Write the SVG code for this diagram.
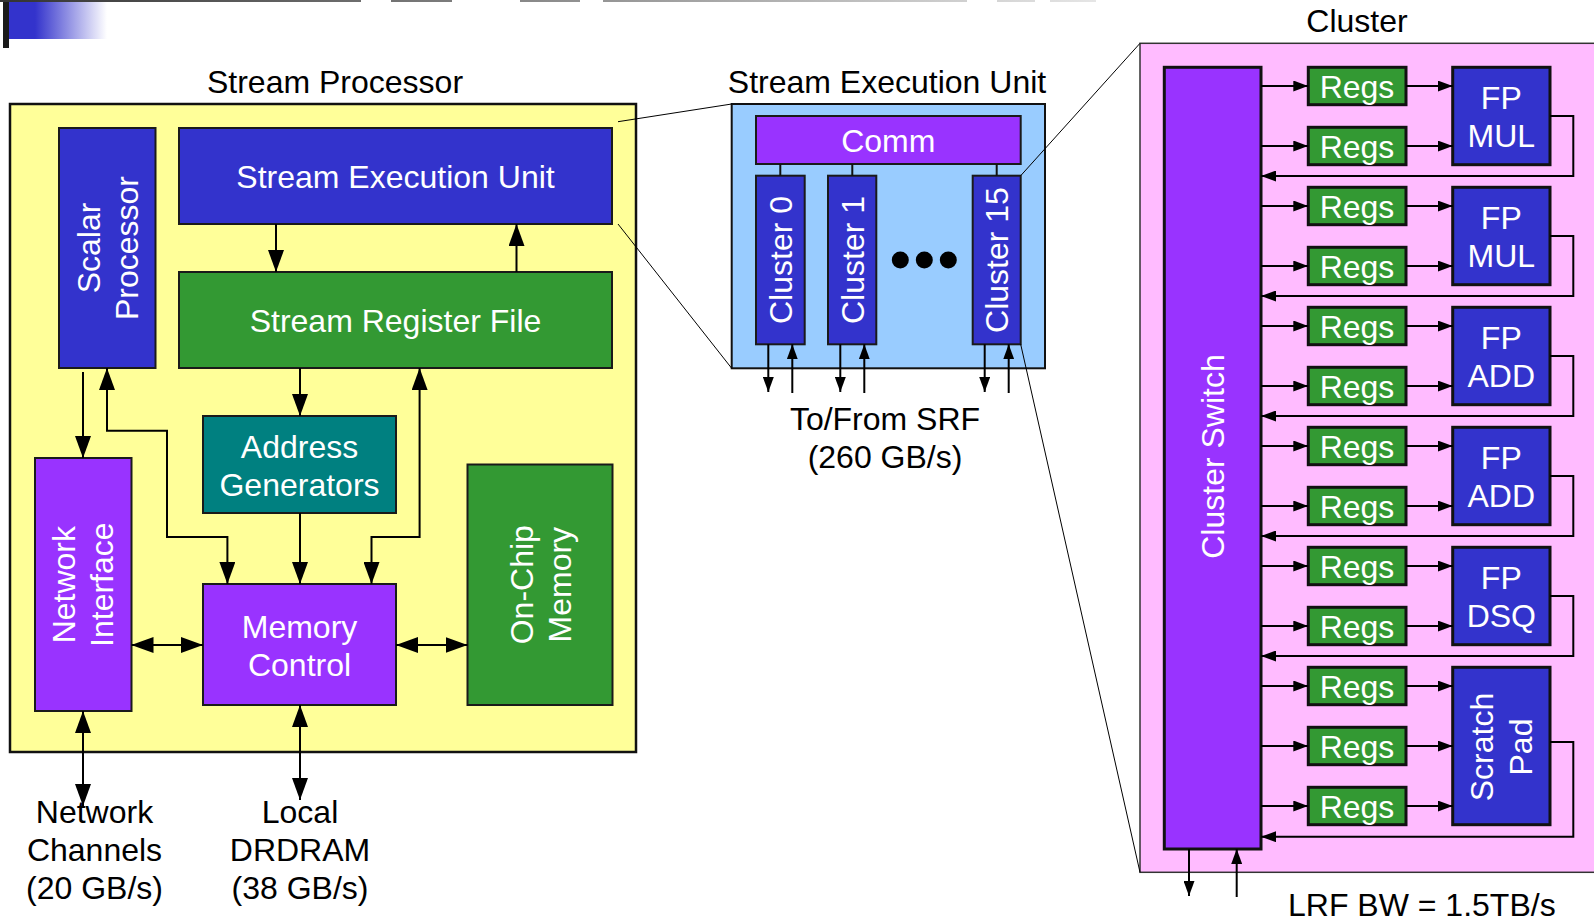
<svg xmlns="http://www.w3.org/2000/svg" width="1594" height="921" viewBox="0 0 1594 921">
  <style>
    .box { stroke: #1a1a1a; stroke-width: 2; }
    .heavy { stroke: #111; stroke-width: 3; }
    .blue { fill: #3333CC; }
    .green { fill: #339933; }
    .purple { fill: #9933FF; }
    .teal { fill: #008080; }
    .lbl { font-family: "Liberation Sans", Arial, sans-serif; font-size: 32px; fill: #ffffff; text-anchor: middle; }
    .cap { font-family: "Liberation Sans", Arial, sans-serif; font-size: 32px; fill: #000000; text-anchor: middle; }
    .wire { stroke: #000; stroke-width: 2; fill: none; }
    .thin { stroke: #000; stroke-width: 1; fill: none; }
  </style>
  <defs>
    <linearGradient id="fade" x1="0" y1="0" x2="1" y2="0">
      <stop offset="0" stop-color="#3333CC"/>
      <stop offset="1" stop-color="#3333CC" stop-opacity="0"/>
    </linearGradient>
    <linearGradient id="rule" gradientUnits="userSpaceOnUse" x1="0" y1="0" x2="1100" y2="0">
      <stop offset="0" stop-color="#333333"/>
      <stop offset="1" stop-color="#e6e6e6"/>
    </linearGradient>
    <marker id="ah" viewBox="0 0 22 16" refX="22" refY="8" markerWidth="22" markerHeight="16" markerUnits="userSpaceOnUse" orient="auto-start-reverse">
      <path d="M0,0 L22,8 L0,16 z" fill="#000"/>
    </marker>
    <marker id="as" viewBox="0 0 15 11" refX="15" refY="5.5" markerWidth="15" markerHeight="11" markerUnits="userSpaceOnUse" orient="auto-start-reverse">
      <path d="M0,0 L15,5.5 L0,11 z" fill="#000"/>
    </marker>
  </defs>

  <rect width="1594" height="921" fill="#ffffff"/>

  <!-- page header decoration -->
  <g id="header">
    <rect x="9" y="0" width="26" height="39" fill="#3333CC"/>
    <rect x="35" y="0" width="72" height="39" fill="url(#fade)"/>
    <rect x="3" y="0" width="6" height="48" fill="#1a1a1a"/>
    <g fill="url(#rule)">
      <rect x="0" y="0" width="361" height="2"/>
      <rect x="391" y="0" width="61" height="2"/>
      <rect x="520" y="0" width="60" height="2"/>
      <rect x="603" y="0" width="364" height="2"/>
      <rect x="997" y="0" width="38" height="2"/>
      <rect x="1050" y="0" width="46" height="2"/>
    </g>
  </g>

  <!-- titles -->
  <g id="titles">
    <text class="cap" x="335" y="93">Stream Processor</text>
    <text class="cap" x="887" y="93">Stream Execution Unit</text>
    <text class="cap" x="1357" y="32">Cluster</text>
  </g>

  <!-- Stream Processor -->
  <g id="stream-processor">
    <rect x="10" y="104" width="626" height="648" fill="#FFFF99" stroke="#111" stroke-width="2.5"/>
  </g>
  <g id="scalar-processor">
    <rect class="box blue" x="59" y="128" width="96.5" height="240"/>
    <text class="lbl" transform="translate(107,248) rotate(-90)"><tspan x="0" y="-7.5">Scalar</tspan><tspan x="0" y="30.5">Processor</tspan></text>
  </g>
  <g id="seu-block">
    <rect class="box blue" x="179" y="128" width="433" height="96"/>
    <text class="lbl" x="395.5" y="187.5">Stream Execution Unit</text>
  </g>
  <g id="srf">
    <rect class="box green" x="179" y="272" width="433" height="96"/>
    <text class="lbl" x="395.5" y="331.5">Stream Register File</text>
  </g>
  <g id="address-generators">
    <rect class="box teal" x="203" y="416" width="193" height="97"/>
    <text class="lbl"><tspan x="299.5" y="458">Address</tspan><tspan x="299.5" y="496">Generators</tspan></text>
  </g>
  <g id="network-interface">
    <rect class="box purple" x="35" y="458" width="96.5" height="253"/>
    <text class="lbl" transform="translate(83.2,584.7) rotate(-90)"><tspan x="0" y="-8.5">Network</tspan><tspan x="0" y="29.5">Interface</tspan></text>
  </g>
  <g id="memory-control">
    <rect class="box purple" x="203" y="584" width="193" height="121"/>
    <text class="lbl"><tspan x="299.5" y="637.5">Memory</tspan><tspan x="299.5" y="675.5">Control</tspan></text>
  </g>
  <g id="on-chip-memory">
    <rect class="box green" x="467.5" y="464.5" width="145" height="240.5"/>
    <text class="lbl" transform="translate(540,584.7) rotate(-90)"><tspan x="0" y="-7.5">On-Chip</tspan><tspan x="0" y="30.5">Memory</tspan></text>
  </g>

  <!-- external labels -->
  <g id="ext-labels">
    <text class="cap"><tspan x="94.5" y="823">Network</tspan><tspan x="94.5" y="861">Channels</tspan><tspan x="94.5" y="899">(20 GB/s)</tspan></text>
    <text class="cap"><tspan x="300" y="823">Local</tspan><tspan x="300" y="861">DRDRAM</tspan><tspan x="300" y="899">(38 GB/s)</tspan></text>
    <text class="cap"><tspan x="885" y="430">To/From SRF</tspan><tspan x="885" y="468">(260 GB/s)</tspan></text>
    <text class="cap" x="1288" y="916" style="text-anchor:start">LRF BW = 1.5TB/s</text>
  </g>

  <!-- Stream Execution Unit detail -->
  <g id="seu-detail">
    <rect x="731.7" y="104" width="313.3" height="264.3" fill="#99CCFF" stroke="#111" stroke-width="2"/>
  </g>
  <g id="comm">
    <rect class="box purple" x="756" y="116" width="264.7" height="48"/>
    <text class="lbl" x="888.3" y="151.5">Comm</text>
  </g>
  <g id="cluster-0">
    <rect class="box blue" x="756" y="175.7" width="48.7" height="168.6"/>
    <text class="lbl" transform="translate(780.3,260) rotate(-90)" x="0" y="11.5">Cluster 0</text>
  </g>
  <g id="cluster-1">
    <rect class="box blue" x="828" y="175.7" width="48.3" height="168.6"/>
    <text class="lbl" transform="translate(852.2,260) rotate(-90)" x="0" y="11.5">Cluster 1</text>
  </g>
  <g id="cluster-15">
    <rect class="box blue" x="972.7" y="175.7" width="48" height="168.6"/>
    <text class="lbl" transform="translate(996.7,260) rotate(-90)" x="0" y="11.5">Cluster 15</text>
  </g>
  <g id="ellipsis">
    <circle cx="900.3" cy="260" r="8.5" fill="#000"/>
    <circle cx="924.3" cy="260" r="8.5" fill="#000"/>
    <circle cx="948.3" cy="260" r="8.5" fill="#000"/>
  </g>

  <!-- Cluster detail -->
  <g id="cluster-detail">
    <rect x="1140" y="43.3" width="470" height="829" fill="#FFBBFF" stroke="#333" stroke-width="1.5"/>
  </g>
  <g id="cluster-switch">
    <rect class="heavy purple" x="1164.3" y="67.3" width="96.7" height="781.7"/>
    <text class="lbl" transform="translate(1212.7,456.5) rotate(-90)" x="0" y="11.5">Cluster Switch</text>
  </g>
  <g id="regs">
    <g class="heavy green">
      <rect x="1308.3" y="67.3" width="97.7" height="37.4"/>
      <rect x="1308.3" y="127.3" width="97.7" height="37.4"/>
      <rect x="1308.3" y="187.3" width="97.7" height="37.4"/>
      <rect x="1308.3" y="247.3" width="97.7" height="37.4"/>
      <rect x="1308.3" y="307.3" width="97.7" height="37.4"/>
      <rect x="1308.3" y="367.3" width="97.7" height="37.4"/>
      <rect x="1308.3" y="427.3" width="97.7" height="37.4"/>
      <rect x="1308.3" y="487.3" width="97.7" height="37.4"/>
      <rect x="1308.3" y="547.3" width="97.7" height="37.4"/>
      <rect x="1308.3" y="607.3" width="97.7" height="37.4"/>
      <rect x="1308.3" y="667.3" width="97.7" height="37.4"/>
      <rect x="1308.3" y="727.3" width="97.7" height="37.4"/>
      <rect x="1308.3" y="787.3" width="97.7" height="37.4"/>
    </g>
    <g class="lbl">
      <text x="1357" y="97.5">Regs</text>
      <text x="1357" y="157.5">Regs</text>
      <text x="1357" y="217.5">Regs</text>
      <text x="1357" y="277.5">Regs</text>
      <text x="1357" y="337.5">Regs</text>
      <text x="1357" y="397.5">Regs</text>
      <text x="1357" y="457.5">Regs</text>
      <text x="1357" y="517.5">Regs</text>
      <text x="1357" y="577.5">Regs</text>
      <text x="1357" y="637.5">Regs</text>
      <text x="1357" y="697.5">Regs</text>
      <text x="1357" y="757.5">Regs</text>
      <text x="1357" y="817.5">Regs</text>
    </g>
  </g>
  <g id="fp-mul-0">
    <rect class="heavy blue" x="1452.7" y="67.3" width="97.3" height="97.4"/>
    <text class="lbl"><tspan x="1501.3" y="108.5">FP</tspan><tspan x="1501.3" y="146.5">MUL</tspan></text>
  </g>
  <g id="fp-mul-1">
    <rect class="heavy blue" x="1452.7" y="187.3" width="97.3" height="97.4"/>
    <text class="lbl"><tspan x="1501.3" y="228.5">FP</tspan><tspan x="1501.3" y="266.5">MUL</tspan></text>
  </g>
  <g id="fp-add-0">
    <rect class="heavy blue" x="1452.7" y="307.3" width="97.3" height="97.4"/>
    <text class="lbl"><tspan x="1501.3" y="348.5">FP</tspan><tspan x="1501.3" y="386.5">ADD</tspan></text>
  </g>
  <g id="fp-add-1">
    <rect class="heavy blue" x="1452.7" y="427.3" width="97.3" height="97.4"/>
    <text class="lbl"><tspan x="1501.3" y="468.5">FP</tspan><tspan x="1501.3" y="506.5">ADD</tspan></text>
  </g>
  <g id="fp-dsq">
    <rect class="heavy blue" x="1452.7" y="547.3" width="97.3" height="97.4"/>
    <text class="lbl"><tspan x="1501.3" y="588.5">FP</tspan><tspan x="1501.3" y="626.5">DSQ</tspan></text>
  </g>
  <g id="scratch-pad">
    <rect class="heavy blue" x="1452.7" y="667.3" width="97.3" height="157.4"/>
    <text class="lbl" transform="translate(1501.3,747) rotate(-90)"><tspan x="0" y="-8">Scratch</tspan><tspan x="0" y="30.5">Pad</tspan></text>
  </g>

  <!-- connectors -->
  <g id="connectors">
    <!-- zoom-out guides -->
    <path class="thin" d="M618,121.7 L731.7,104"/>
    <path class="thin" d="M618,224 L731.7,368.3"/>
    <path class="thin" d="M1020.7,175.7 L1140,43.3"/>
    <path class="thin" d="M1020.7,344.3 L1140,872.3"/>

    <!-- stream processor -->
    <path class="wire" d="M276,224 V272" marker-end="url(#ah)"/>
    <path class="wire" d="M516.5,272 V224" marker-end="url(#ah)"/>
    <path class="wire" d="M300,368 V416" marker-end="url(#ah)"/>
    <path class="wire" d="M300,513 V584" marker-end="url(#ah)"/>
    <path class="wire" d="M83,372 V458" marker-end="url(#ah)"/>
    <path class="wire" d="M107,368 V430.7 H167 V537 H227.4 V584" marker-start="url(#ah)" marker-end="url(#ah)"/>
    <path class="wire" d="M419.6,368 V537 H371.5 V584" marker-start="url(#ah)" marker-end="url(#ah)"/>
    <path class="wire" d="M131.5,645 H203" marker-start="url(#ah)" marker-end="url(#ah)"/>
    <path class="wire" d="M396,645 H467.5" marker-start="url(#ah)" marker-end="url(#ah)"/>
    <path class="wire" d="M83,711 V806" marker-start="url(#ah)" marker-end="url(#ah)"/>
    <path class="wire" d="M300,705 V800" marker-start="url(#ah)" marker-end="url(#ah)"/>

    <!-- stream execution unit -->
    <g stroke="#111" stroke-width="2">
      <path d="M780.3,164 V175.7"/>
      <path d="M852.3,164 V175.7"/>
      <path d="M996.7,164 V175.7"/>
    </g>
    <path class="wire" d="M768.3,344.3 V392" marker-end="url(#as)"/>
    <path class="wire" d="M792.3,393 V344.3" marker-end="url(#as)"/>
    <path class="wire" d="M840.3,344.3 V392" marker-end="url(#as)"/>
    <path class="wire" d="M864.3,393 V344.3" marker-end="url(#as)"/>
    <path class="wire" d="M984.7,344.3 V392" marker-end="url(#as)"/>
    <path class="wire" d="M1008.7,393 V344.3" marker-end="url(#as)"/>

    <!-- cluster: switch to regs -->
    <g>
      <path class="wire" d="M1261,86 H1308.3" marker-end="url(#as)"/>
      <path class="wire" d="M1261,146 H1308.3" marker-end="url(#as)"/>
      <path class="wire" d="M1261,206 H1308.3" marker-end="url(#as)"/>
      <path class="wire" d="M1261,266 H1308.3" marker-end="url(#as)"/>
      <path class="wire" d="M1261,326 H1308.3" marker-end="url(#as)"/>
      <path class="wire" d="M1261,386 H1308.3" marker-end="url(#as)"/>
      <path class="wire" d="M1261,446 H1308.3" marker-end="url(#as)"/>
      <path class="wire" d="M1261,506 H1308.3" marker-end="url(#as)"/>
      <path class="wire" d="M1261,566 H1308.3" marker-end="url(#as)"/>
      <path class="wire" d="M1261,626 H1308.3" marker-end="url(#as)"/>
      <path class="wire" d="M1261,686 H1308.3" marker-end="url(#as)"/>
      <path class="wire" d="M1261,746 H1308.3" marker-end="url(#as)"/>
      <path class="wire" d="M1261,806 H1308.3" marker-end="url(#as)"/>
    </g>
    <!-- cluster: regs to units -->
    <g>
      <path class="wire" d="M1406,86 H1452.7" marker-end="url(#as)"/>
      <path class="wire" d="M1406,146 H1452.7" marker-end="url(#as)"/>
      <path class="wire" d="M1406,206 H1452.7" marker-end="url(#as)"/>
      <path class="wire" d="M1406,266 H1452.7" marker-end="url(#as)"/>
      <path class="wire" d="M1406,326 H1452.7" marker-end="url(#as)"/>
      <path class="wire" d="M1406,386 H1452.7" marker-end="url(#as)"/>
      <path class="wire" d="M1406,446 H1452.7" marker-end="url(#as)"/>
      <path class="wire" d="M1406,506 H1452.7" marker-end="url(#as)"/>
      <path class="wire" d="M1406,566 H1452.7" marker-end="url(#as)"/>
      <path class="wire" d="M1406,626 H1452.7" marker-end="url(#as)"/>
      <path class="wire" d="M1406,686 H1452.7" marker-end="url(#as)"/>
      <path class="wire" d="M1406,746 H1452.7" marker-end="url(#as)"/>
      <path class="wire" d="M1406,806 H1452.7" marker-end="url(#as)"/>
    </g>
    <!-- cluster: unit results back to switch -->
    <g>
      <path class="wire" d="M1550,116 H1573.3 V176 H1261" marker-end="url(#as)"/>
      <path class="wire" d="M1550,236 H1573.3 V296 H1261" marker-end="url(#as)"/>
      <path class="wire" d="M1550,356 H1573.3 V416 H1261" marker-end="url(#as)"/>
      <path class="wire" d="M1550,476 H1573.3 V536 H1261" marker-end="url(#as)"/>
      <path class="wire" d="M1550,596 H1573.3 V656 H1261" marker-end="url(#as)"/>
      <path class="wire" d="M1550,742 H1573.3 V836.7 H1261" marker-end="url(#as)"/>
    </g>
    <!-- cluster: switch to/from SRF -->
    <path class="wire" d="M1189,849 V896" marker-end="url(#as)"/>
    <path class="wire" d="M1236.7,897 V849" marker-end="url(#as)"/>
  </g>
</svg>
